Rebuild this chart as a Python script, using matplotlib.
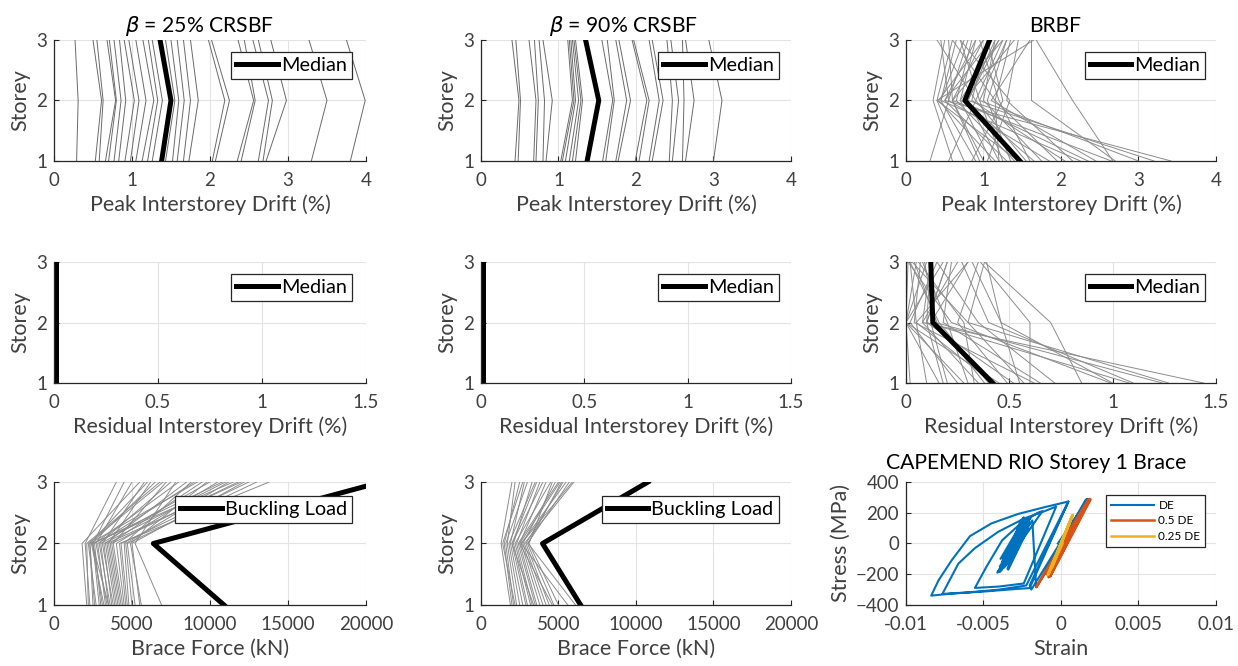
import numpy as np
import matplotlib.pyplot as plt

plt.rcParams['font.family'] = ['Lato', 'DejaVu Sans']
plt.rcParams['mathtext.fontset'] = 'dejavusans'

storeys = [1, 2, 3]

# peak drift (%) per record, (storey1, storey2, storey3)
peak_25 = [
    (0.29, 0.31, 0.27), (0.53, 0.61, 0.50), (0.58, 0.63, 0.55), (0.66, 0.79, 0.68),
    (0.70, 0.80, 0.71), (0.77, 0.86, 0.77), (0.83, 0.92, 0.84), (0.91, 1.03, 0.90),
    (0.98, 1.09, 0.96), (1.05, 1.18, 1.05), (1.13, 1.28, 1.14), (1.20, 1.33, 1.21),
    (1.26, 1.39, 1.26), (1.43, 1.55, 1.43), (1.52, 1.60, 1.50), (1.58, 1.67, 1.58),
    (1.66, 1.75, 1.66), (1.73, 1.85, 1.75), (2.03, 2.19, 1.98), (2.07, 2.25, 2.02),
    (2.35, 2.56, 2.36), (2.40, 2.58, 2.44), (2.62, 2.75, 2.55), (2.68, 2.80, 2.62),
    (2.72, 2.98, 2.78), (3.30, 3.50, 3.27), (3.80, 3.99, 3.75),
]
peak_25_median = [1.38, 1.50, 1.36]

peak_90 = [
    (0.44, 0.49, 0.40), (0.48, 0.51, 0.45), (0.68, 0.71, 0.62), (0.71, 0.74, 0.69),
    (0.80, 0.82, 0.75), (0.84, 0.92, 0.80), (1.03, 1.18, 1.12), (1.05, 1.20, 1.14),
    (1.09, 1.22, 1.16), (1.14, 1.26, 1.18), (1.18, 1.29, 1.20), (1.22, 1.31, 1.22),
    (1.57, 1.70, 1.56), (1.61, 1.72, 1.63), (1.74, 1.88, 1.74), (1.77, 1.93, 1.78),
    (1.99, 2.14, 1.95), (2.04, 2.17, 1.97), (2.17, 2.30, 2.17), (2.21, 2.35, 2.21),
    (2.43, 2.47, 2.40), (2.47, 2.55, 2.45), (2.60, 2.62, 2.60), (2.64, 2.75, 2.64),
    (3.00, 3.11, 2.94),
]
peak_90_median = [1.37, 1.52, 1.35]

peak_brbf = [
    (0.31, 0.55, 0.45), (0.60, 0.35, 0.50), (0.75, 0.40, 0.60), (0.90, 0.45, 0.75),
    (1.00, 0.60, 0.55), (1.10, 0.70, 0.90), (1.15, 0.42, 1.00), (1.20, 0.80, 1.20),
    (1.25, 0.95, 0.70), (1.30, 0.50, 1.10), (1.35, 1.05, 1.30), (1.40, 0.65, 0.85),
    (1.55, 0.90, 1.25), (1.60, 1.20, 0.95), (1.65, 0.75, 1.40), (1.75, 1.00, 1.15),
    (1.85, 0.55, 0.80), (1.95, 1.15, 1.35), (2.05, 0.85, 1.05), (2.15, 1.30, 1.45),
    (2.25, 0.45, 0.65), (2.35, 0.70, 1.20), (2.45, 1.10, 1.60), (2.65, 0.60, 1.00),
    (2.70, 1.62, 1.62), (3.00, 0.95, 1.30), (3.20, 0.80, 1.15), (3.42, 0.50, 0.90),
    (0.55, 0.90, 0.40), (0.85, 1.25, 1.05), (1.05, 1.34, 0.70), (1.45, 0.40, 1.65),
    (1.20, 1.15, 0.60), (0.95, 0.60, 1.25), (2.67, 2.15, 1.68),
]
peak_brbf_median = [1.47, 0.76, 1.08]

# residual drift (%)
resid_25_median = [0.01, 0.01, 0.01]
resid_90_median = [0.01, 0.01, 0.01]
resid_brbf = [
    (0.02, 0.00, 0.05), (0.10, 0.05, 0.02), (0.16, 0.00, 0.10), (0.20, 0.12, 0.30),
    (0.25, 0.02, 0.15), (0.30, 0.20, 0.08), (0.35, 0.08, 0.25), (0.38, 0.15, 0.04),
    (0.45, 0.00, 0.18), (0.49, 0.25, 0.35), (0.52, 0.10, 0.12), (0.57, 0.30, 0.38),
    (0.62, 0.04, 0.07), (0.65, 0.18, 0.22), (0.72, 0.35, 0.15), (0.85, 0.70, 0.38),
    (0.99, 0.22, 0.01), (1.00, 0.46, 0.32), (1.08, 0.10, 0.20), (1.10, 0.40, 0.27),
    (1.24, 0.14, 0.09), (1.27, 0.30, 0.03), (1.44, 0.08, 0.12), (0.55, 0.46, 0.39),
    (0.42, 0.05, 0.30), (0.33, 0.28, 0.06), (0.28, 0.00, 0.01), (0.60, 0.60, 0.36),
    (0.18, 0.10, 0.20), (0.40, 0.16, 0.02),
]
resid_brbf_median = [0.42, 0.13, 0.12]

# brace force (kN)
force_25 = [
    (2100, 1800, 5500), (2300, 2000, 4000), (2500, 2300, 6000), (2700, 2200, 7000),
    (2900, 2500, 4500), (3000, 2600, 8000), (3200, 2400, 6500), (3300, 2800, 9000),
    (3400, 2700, 5000), (3500, 3000, 10000), (3600, 2900, 7500), (3700, 3200, 11000),
    (3800, 3100, 5800), (3900, 3300, 8500), (4000, 3400, 12000), (4100, 3500, 6200),
    (4200, 3600, 9500), (4300, 3700, 11800), (4400, 3800, 7200), (4500, 4000, 10500),
    (4600, 4200, 13800), (4700, 4300, 12500), (4800, 4500, 8800), (5000, 4600, 11200),
    (5200, 4700, 13000), (5600, 4900, 9800), (5500, 5000, 12200), (6900, 5200, 7800),
    (2200, 2100, 6800), (2600, 2300, 9200), (3100, 2500, 10800), (3500, 2450, 11500),
]
buckling_25 = [10900, 6370, 21000]

force_90 = [
    (1900, 1300, 2000), (2000, 1500, 2500), (2100, 1600, 3000), (2300, 1700, 2200),
    (2500, 1800, 3500), (2700, 1900, 2800), (2900, 2000, 4000), (3000, 2100, 3300),
    (3200, 2200, 4500), (3300, 2300, 3800), (3500, 2400, 5000), (3600, 2500, 4200),
    (3800, 2600, 5500), (4000, 2700, 4800), (4200, 2800, 6000), (4400, 2900, 5300),
    (4700, 3000, 5700), (5000, 3100, 4600), (5600, 2600, 5900), (6100, 3050, 5200),
    (2200, 1400, 2700), (3400, 2000, 3600), (4600, 2500, 5100),
]
buckling_90 = [6430, 3970, 10780]

# brace hysteresis, strain in 1e-3, stress in MPa
de_strain = [0.00, 1.70, -1.91, -2.02, 0.48, -2.02, -2.77, -4.91, -7.05, -8.37,
             -7.90, -7.05, -5.87, -4.48, -2.77, -1.06, 0.48, -2.24, -4.00, -6.00,
             -7.65, -6.62, -5.55, -4.05, -2.34, -1.06, -0.31, -2.40, -4.00, -5.55,
             -4.80, -3.80, -2.60, -1.50, -1.20, -3.95, -2.20, -3.60, -2.00, -3.80,
             -2.40, -3.40, -2.10, -3.90, -2.50, -3.50, -2.30, -3.70, -2.60, -3.30,
             -2.20, -3.85, -2.35, -3.55, -2.05, -3.75, -2.45, -3.45, -2.15, -3.65,
             -2.55, -3.25, -2.25, -4.10, -1.95, -3.95, -1.85, -1.60, 1.60, 1.75, -0.20]
de_stress = [0, 290, -300, -273, 273, -290, -295, -312, -326, -339,
             -240, -109, 48, 131, 192, 236, 273, -273, -300, -318,
             -328, -131, -30, 76, 164, 210, 240, -260, -280, -289,
             -150, 20, 130, 200, 210, -186, 160, -150, 130, -120,
             170, -170, 100, -100, 140, -130, 120, -160, 150, -90,
             90, -175, 155, -140, 135, -110, 165, -165, 110, -120,
             145, -100, 125, -190, 170, -150, 150, -285, 285, 290, 0]
half_strain = [0.00, 1.80, -0.80, 1.85, -0.70, 1.90, -1.59, 1.75, -0.90, 1.88,
               -0.75, 1.70, -0.85, 1.80, 0.30]
half_stress = [0, 285, -220, 288, -215, 285, -284, 280, -200, 290,
               -210, 270, -190, 280, 0]
quarter_strain = [0.00, 0.76, -0.85, 0.70, -0.80, 0.75, -0.60, 0.10]
quarter_stress = [0, 186, -205, 175, -200, 182, -160, 0]

gray_dark = '#6a6a6a'
gray = '#8c8c8c'
txt = '#404040'
LBL = 15.5
TICK = 13.5
TTL = 15.2
LEG = 14.3

fig = plt.figure(figsize=(12.38, 6.66), dpi=100)

cols = [0.0436, 0.3885, 0.7318]
widths = [0.252, 0.2504, 0.2504]
rows = [0.7583, 0.4249, 0.0916]
heights = [0.1817, 0.1817, 0.1847]


def style(ax):
    ax.spines['top'].set_visible(False)
    ax.spines['right'].set_visible(False)
    for s in ['left', 'bottom']:
        ax.spines[s].set_color('#262626')
        ax.spines[s].set_linewidth(0.9)
    ax.grid(True, color='#e3e3e3', linewidth=0.8)
    ax.set_axisbelow(True)
    ax.tick_params(direction='in', length=3.5, width=0.8, color='#262626',
                   labelsize=TICK, labelcolor=txt)
    ax.tick_params(axis='x', pad=8)
    ax.tick_params(axis='y', pad=5)


def add_legend(ax, handle, label, x, y):
    leg = ax.legend([handle], [label], loc='upper right', bbox_to_anchor=(x, y),
                    fontsize=LEG, fancybox=False, framealpha=1, edgecolor='#262626',
                    handlelength=2.1, handletextpad=0.15, borderpad=0.25,
                    borderaxespad=0)
    leg.get_frame().set_linewidth(0.9)


def drift_panel(ax, lines, median, xmax, xticks, xlabel, lc):
    for s1, s2, s3 in lines:
        ax.plot([s1, s2, s3], storeys, color=lc, linewidth=0.7)
    h, = ax.plot(median, storeys, color='black', linewidth=3.6)
    ax.set_xlim(0, xmax)
    ax.set_ylim(1, 3)
    ax.set_xticks(xticks)
    ax.set_yticks([1, 2, 3])
    ax.set_xticklabels([('%g' % t) for t in xticks])
    ax.set_xlabel(xlabel, fontsize=LBL, color=txt, labelpad=4)
    ax.set_ylabel('Storey', fontsize=LBL, color=txt, labelpad=4)
    style(ax)
    return h


axes = {}
for r in range(3):
    for c in range(3):
        axes[(r, c)] = fig.add_axes([cols[c], rows[r], widths[c], heights[r]])

pk_ticks = [0, 1, 2, 3, 4]
rs_ticks = [0, 0.5, 1, 1.5]
bf_ticks = [0, 5000, 10000, 15000, 20000]

ax = axes[(0, 0)]
h = drift_panel(ax, peak_25, peak_25_median, 4, pk_ticks, 'Peak Interstorey Drift (%)', gray_dark)
add_legend(ax, h, 'Median', 0.955, 0.90)
ax.set_title(r'$\beta$ = 25% CRSBF', fontsize=TTL, color='black', pad=6, x=0.465)

ax = axes[(0, 1)]
h = drift_panel(ax, peak_90, peak_90_median, 4, pk_ticks, 'Peak Interstorey Drift (%)', gray_dark)
add_legend(ax, h, 'Median', 0.96, 0.90)
ax.set_title(r'$\beta$ = 90% CRSBF', fontsize=TTL, color='black', pad=6, x=0.46)

ax = axes[(0, 2)]
h = drift_panel(ax, peak_brbf, peak_brbf_median, 4, pk_ticks, 'Peak Interstorey Drift (%)', gray)
add_legend(ax, h, 'Median', 0.965, 0.90)
ax.set_title('BRBF', fontsize=TTL, color='black', pad=6, x=0.48)

ax = axes[(1, 0)]
h = drift_panel(ax, [], resid_25_median, 1.5, rs_ticks, 'Residual Interstorey Drift (%)', gray)
add_legend(ax, h, 'Median', 0.955, 0.90)

ax = axes[(1, 1)]
h = drift_panel(ax, [], resid_90_median, 1.5, rs_ticks, 'Residual Interstorey Drift (%)', gray)
add_legend(ax, h, 'Median', 0.96, 0.90)

ax = axes[(1, 2)]
h = drift_panel(ax, resid_brbf, resid_brbf_median, 1.5, rs_ticks, 'Residual Interstorey Drift (%)', gray)
add_legend(ax, h, 'Median', 0.965, 0.90)

ax = axes[(2, 0)]
h = drift_panel(ax, force_25, buckling_25, 20000, bf_ticks, 'Brace Force (kN)', gray)
add_legend(ax, h, 'Buckling Load', 0.955, 0.886)

ax = axes[(2, 1)]
h = drift_panel(ax, force_90, buckling_90, 20000, bf_ticks, 'Brace Force (kN)', gray)
add_legend(ax, h, 'Buckling Load', 0.96, 0.886)

# hysteresis panel
ax = axes[(2, 2)]
ax.plot(np.array(de_strain) / 1000, de_stress, color='#0072BD', linewidth=1.5, label='DE')
ax.plot(np.array(half_strain) / 1000, half_stress, color='#D95319', linewidth=1.8, label='0.5 DE')
ax.plot(np.array(quarter_strain) / 1000, quarter_stress, color='#EDB120', linewidth=1.8, label='0.25 DE')
ax.set_xlim(-0.01, 0.01)
ax.set_ylim(-400, 400)
ax.set_xticks([-0.01, -0.005, 0, 0.005, 0.01])
ax.set_xticklabels(['-0.01', '-0.005', '0', '0.005', '0.01'])
ax.set_yticks([-400, -200, 0, 200, 400])
ax.set_xlabel('Strain', fontsize=LBL, color=txt, labelpad=4)
ax.set_ylabel('Stress (MPa)', fontsize=LBL, color=txt, labelpad=3)
ax.set_title('CAPEMEND RIO Storey 1 Brace', fontsize=TTL, color='black', pad=9, x=0.42)
style(ax)
leg = ax.legend(loc='upper right', bbox_to_anchor=(0.965, 0.894), fontsize=8.5,
                fancybox=False, framealpha=1, edgecolor='#262626', handlelength=3.6,
                handletextpad=0.4, borderpad=0.4, borderaxespad=0, labelspacing=0.4)
leg.get_frame().set_linewidth(0.9)

fig.savefig('out.png', dpi=100)
